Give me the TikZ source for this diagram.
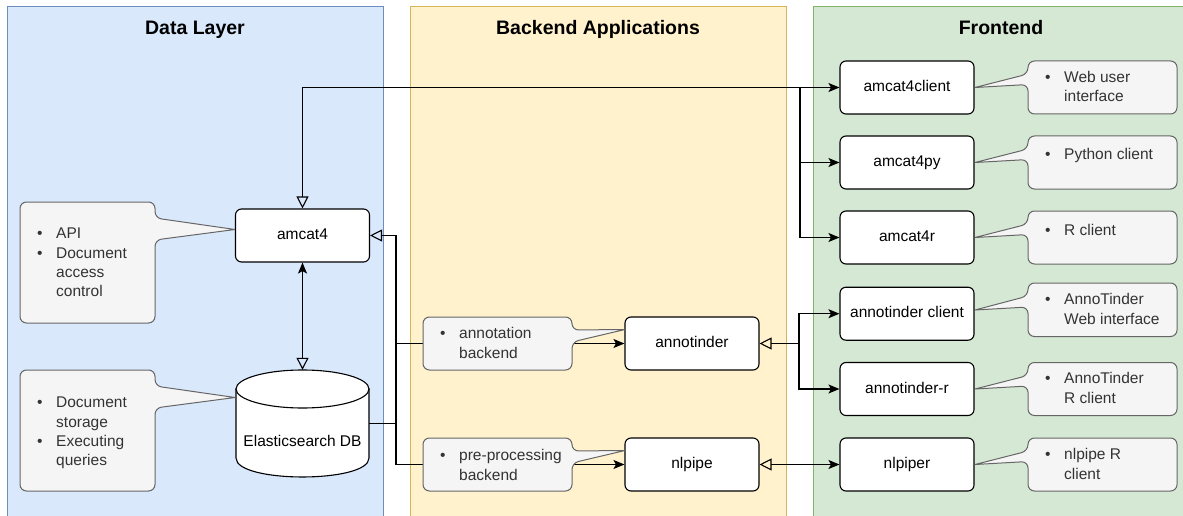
\documentclass[tikz,border=0pt]{standalone}
\usepackage{fontspec}
\setmainfont{Liberation Sans}
\usetikzlibrary{arrows.meta}
\definecolor{dlfill}{HTML}{DAE8FC}
\definecolor{dlline}{HTML}{6C8EBF}
\definecolor{befill}{HTML}{FFF2CC}
\definecolor{beline}{HTML}{D6B656}
\definecolor{fefill}{HTML}{D5E8D4}
\definecolor{feline}{HTML}{82B366}
\definecolor{cofill}{HTML}{F5F5F5}
\definecolor{coline}{HTML}{666666}
\definecolor{cotext}{HTML}{333333}
\newcommand{\bul}{\makebox[19pt][l]{\rule{0pt}{12pt}\textbullet}}
\newcommand{\ind}{\hspace*{19pt}}
\tikzset{
  opentri/.tip={Triangle[open,length=12pt,width=12pt]},
  fillarr/.tip={Stealth[length=11pt,width=9pt,inset=2.5pt]},
  panel/.style={line width=1pt},
  title/.style={font=\bfseries\fontsize{19.5}{23}\selectfont, anchor=base, inner sep=0pt},
  box/.style={draw=black, fill=white, rounded corners=6pt, line width=1.1pt, minimum width=134pt, minimum height=53pt, inner sep=0pt, text height=11.5pt, text depth=3pt, font=\fontsize{15.5}{19.3}\selectfont},
  callout/.style={draw=coline, fill=cofill, line width=1pt, rounded corners=6.5pt},
  ctext/.style={anchor=north west, inner sep=0pt, align=left, text=cotext, font=\fontsize{15.5}{19.3}\selectfont},
  conn/.style={line width=1.1pt, draw=black}
}
\begin{document}
\begin{tikzpicture}[x=1pt,y=-1pt]
\useasboundingbox (0,0) rectangle (1183,516);
\clip (0,0) rectangle (1183,516);
% panels
\draw[panel, draw=dlline, fill=dlfill] (7,7) rectangle (383,530);
\draw[panel, draw=beline, fill=befill] (410,7) rectangle (786,530);
\draw[panel, draw=feline, fill=fefill] (813,7) rectangle (1189,530);
\node[title] (t1) at (195,35) {Data Layer};
\node[title] (t2) at (598,35) {Backend Applications};
\node[title] (t3) at (1001,35) {Frontend};
% nodes
\node[box] (amcat4) at (302.5,235.5) {amcat4};
\draw[line width=1.1pt, fill=white] (236,389) -- (236,458) .. controls (236,483.3) and (369,483.3) .. (369,458) -- (369,389) -- cycle;
\draw[line width=1.1pt, fill=white] (302.5,389) ellipse [x radius=66.5, y radius=19];
\node[minimum width=133pt, minimum height=107pt, inner sep=0pt] (es) at (302.5,423.5) {};
\node[inner sep=0pt, text height=11.5pt, text depth=3pt, font=\fontsize{15.5}{19.3}\selectfont] (eslabel) at (302.5,442) {Elasticsearch DB};
\node[box] (annotinder) at (692,343.5) {annotinder};
\node[box] (nlpipe) at (692,464.5) {nlpipe};
\node[box] (a4c) at (907,87.5) {amcat4client};
\node[box] (a4py) at (907,162.5) {amcat4py};
\node[box] (a4r) at (907,237.5) {amcat4r};
\node[box] (atc) at (907,313.7) {annotinder client};
\node[box] (atr) at (907,389) {annotinder-r};
\node[box] (nlpiper) at (907,464.5) {nlpiper};
% connectors
\coordinate (jf) at (800,87.5);
\coordinate (jb) at (396,343.5);
\coordinate (ja) at (799,343.5);
\draw[conn, opentri-fillarr] (amcat4.north) |- (a4c.west);
\draw[conn, -fillarr] (jf) |- (a4py.west);
\draw[conn, -fillarr] (jf) |- (a4r.west);
\draw[conn, fillarr-opentri] (amcat4.south) -- (es.north);
\draw[conn, opentri-fillarr] (amcat4.east) -| (jb) |- (nlpipe.west);
\draw[conn, -fillarr] (jb) -- (annotinder.west);
\draw[conn] (es.east) -- (es.east -| jb);
\draw[conn, opentri-] (annotinder.east) -- (ja);
\draw[conn, -fillarr] (ja) |- (atc.west);
\draw[conn, -fillarr] (ja) |- (atr.west);
\draw[conn, opentri-fillarr] (nlpipe.east) -- (nlpiper.west);
% callouts
\draw[callout] (235,229.5) -- (155,240) -- (155,323) -- (20,323) -- (20,202) -- (155,202) -- (155,218) -- (235,229.5);
\draw[callout] (235,397.5) -- (155,408) -- (155,491) -- (20,491) -- (20,370) -- (155,370) -- (155,386) -- (235,397.5);
\draw[callout] (625,329.5) -- (572,342) -- (572,370) -- (423,370) -- (423,317) -- (572,317) -- (572,330) -- (625,329.5);
\draw[callout] (625,450.5) -- (572,463) -- (572,491) -- (423,491) -- (423,438) -- (572,438) -- (572,451) -- (625,450.5);
\draw[callout] (975,87.5) -- (1028,84.5) -- (1028,114) -- (1177,114) -- (1177,61) -- (1028,61) -- (1028,74) -- (975,87.5);
\draw[callout] (975,162.5) -- (1028,159.5) -- (1028,189) -- (1177,189) -- (1177,136) -- (1028,136) -- (1028,149) -- (975,162.5);
\draw[callout] (975,237.5) -- (1028,234.5) -- (1028,264) -- (1177,264) -- (1177,211) -- (1028,211) -- (1028,224) -- (975,237.5);
\draw[callout] (975,310) -- (1028,307) -- (1028,336.5) -- (1177,336.5) -- (1177,283) -- (1028,283) -- (1028,296) -- (975,310);
\draw[callout] (975,389) -- (1028,386) -- (1028,415.5) -- (1177,415.5) -- (1177,362.5) -- (1028,362.5) -- (1028,375.5) -- (975,389);
\draw[callout] (975,464.5) -- (1028,461.5) -- (1028,491) -- (1177,491) -- (1177,438) -- (1028,438) -- (1028,451) -- (975,464.5);
% callout texts
\node[ctext] (c1) at (37,226.5) {\bul API\\\bul Document\\\ind access\\\ind control};
\node[ctext] (c2) at (37,395.5) {\bul Document\\\ind storage\\\bul Executing\\\ind queries};
\node[ctext] (b1) at (440,326.5) {\bul annotation\\\ind backend};
\node[ctext] (b2) at (440,448.5) {\bul pre-processing\\\ind backend};
\node[ctext] (f1) at (1045,70.5) {\bul Web user\\\ind interface};
\node[ctext] (f2) at (1045,147.5) {\bul Python client};
\node[ctext] (f3) at (1045,223.5) {\bul R client};
\node[ctext] (f4) at (1045,292.5) {\bul AnnoTinder\\\ind Web interface};
\node[ctext] (f5) at (1045,371.5) {\bul AnnoTinder\\\ind R client};
\node[ctext] (f6) at (1045,447.5) {\bul nlpipe R\\\ind client};
\end{tikzpicture}
\end{document}
